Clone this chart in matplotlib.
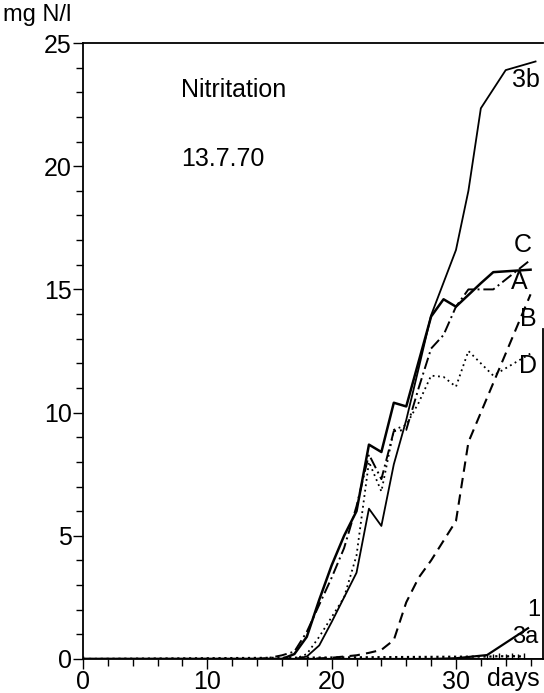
import matplotlib
matplotlib.use('Agg')
import matplotlib.pyplot as plt
from matplotlib.ticker import MultipleLocator

plt.rcParams['font.family'] = ['Liberation Sans', 'DejaVu Sans']

# values (days, mg N/l)
days_A = [0, 16, 17, 18, 19, 20, 21, 22, 23, 24, 25, 26, 28, 29, 30, 32, 33, 36]
val_A = [0, 0, 0.2, 0.9, 2.4, 3.8, 5.0, 6.0, 8.7, 8.4, 10.4, 10.25, 13.9, 14.6, 14.3, 15.25, 15.7, 15.8]

days_3b = [0, 17, 18, 19, 20, 21, 22, 23, 24, 25, 26, 27, 28, 30, 31, 32, 34, 36.4]
val_3b = [0, 0, 0.1, 0.55, 1.5, 2.5, 3.5, 6.1, 5.4, 7.9, 9.7, 11.8, 13.95, 16.6, 19.0, 22.35, 23.9, 24.25]

days_C = [0, 14, 15, 16, 17, 18, 19, 20, 21, 22, 23, 24, 25, 26, 27, 28, 29, 30, 31, 33, 36]
val_C = [0, 0, 0.05, 0.15, 0.3, 1.1, 2.2, 3.3, 4.5, 6.2, 8.3, 7.3, 9.25, 9.3, 11.0, 12.6, 13.15, 14.3, 15.0, 15.0, 16.2]

days_B = [0, 18, 20, 22, 23, 24, 25, 26, 27, 28, 29, 30, 31, 32, 33, 36]
val_B = [0, 0, 0.05, 0.15, 0.25, 0.37, 0.77, 2.3, 3.3, 4.0, 4.8, 5.6, 8.8, 10.0, 11.2, 14.8]

days_D = [0, 17, 18, 19, 20, 21, 22, 23, 24, 25, 26, 27, 28, 29, 30, 31, 33, 36]
val_D = [0, 0, 0.2, 0.9, 1.7, 2.5, 4.2, 8.0, 6.8, 9.3, 9.5, 10.4, 11.5, 11.45, 11.05, 12.5, 11.5, 12.4]

days_1 = [0, 28, 30, 32.5, 35.8]
val_1 = [0, 0, 0.03, 0.16, 1.25]

days_3a = [0, 32.5, 33, 33.5, 34, 34.5, 35, 35.5]
val_3a = [0, 0.1, 0.1, 0.12, 0.1, 0.12, 0.1, 0.12]

days_2 = [0, 37]
val_2 = [0, 0]

fig = plt.figure(figsize=(5.44, 6.93), dpi=100)
ax = fig.add_axes([83 / 544, 34 / 693, 460 / 544, 616 / 693])

ax.plot(days_2, val_2, color='black', lw=1.2)
ax.plot(days_1, val_1, color='black', lw=1.6)
ax.plot(days_3a, val_3a, color='black', lw=1.6, ls=':', marker='|', ms=5, mew=1)
ax.plot(days_B, val_B, color='black', lw=1.5, ls=(0, (5, 3)))
ax.plot(days_D, val_D, color='black', lw=1.3, ls=(0, (1, 2)))
ax.plot(days_C, val_C, color='black', lw=1.4, ls=(0, (6, 2, 1, 2)))
ax.plot(days_3b, val_3b, color='black', lw=1.3)
ax.plot(days_A, val_A, color='black', lw=1.8)

ax.set_xlim(0, 37.0)
ax.set_ylim(0, 25)

ax.xaxis.set_major_locator(MultipleLocator(10))
ax.xaxis.set_minor_locator(MultipleLocator(2))
ax.yaxis.set_major_locator(MultipleLocator(5))
ax.yaxis.set_minor_locator(MultipleLocator(1))
ax.tick_params(which='both', direction='out', width=1, labelsize=18, pad=1,
               top=False, right=False)
ax.tick_params(which='major', length=7)
ax.tick_params(which='minor', length=5)

for sp in ax.spines.values():
    sp.set_linewidth(1.3)
ax.spines['right'].set_bounds(0, 13.4)

# curve labels
lab = dict(fontsize=18, ha='center', va='center')
ax.text(35.6, 23.5, '3b', **lab)
ax.text(35.4, 16.8, 'C', **lab)
ax.text(35.1, 15.3, 'A', **lab)
ax.text(35.8, 13.8, 'B', **lab)
ax.text(35.8, 11.9, 'D', **lab)
ax.text(36.3, 2.0, '1', fontsize=17, ha='center', va='center')
ax.text(35.6, 0.9, '3a', fontsize=17, ha='center', va='center')
ax.text(37.0, -0.1, '2', fontsize=17, ha='left', va='top', clip_on=False)
ax.text(34.6, -0.8, 'days', fontsize=18, ha='center', va='center', clip_on=False)

ax.text(7.9, 23.1, 'Nitritation', fontsize=18, ha='left', va='center')
ax.text(7.9, 20.3, '13.7.70', fontsize=18, ha='left', va='center')

fig.text(37 / 544, 1 - 15 / 693, 'mg N/l', fontsize=17, ha='center', va='center')

fig.savefig('out.png', dpi=100)
